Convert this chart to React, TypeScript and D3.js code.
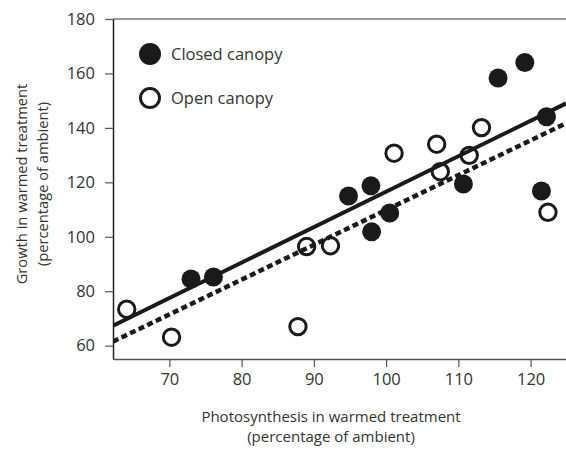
import React, { useEffect, useRef } from 'react';
import * as d3 from 'd3';

// closed canopy points: photosynthesis (x) and growth (y)
const closedX = [73.0, 76.1, 94.8, 97.9, 98.0, 100.5, 110.7, 115.5, 119.2, 122.2, 121.5];
const closedY = [84.5, 85.2, 115.0, 118.7, 101.8, 108.7, 119.4, 158.3, 164.0, 144.1, 116.8];

// open canopy points
const openX = [64.1, 70.3, 87.8, 89.0, 92.3, 101.1, 107.0, 107.5, 111.5, 113.2, 122.4];
const openY = [73.4, 63.1, 67.0, 96.4, 96.7, 130.7, 134.0, 123.9, 129.9, 140.1, 109.0];

// regression lines: [slope, intercept]
const closedFit = [1.303, -13.75];
const openFit = [1.279, -18.06];

const xTicks = [70, 80, 90, 100, 110, 120];
const yTicks = [60, 80, 100, 120, 140, 160, 180];
const legendLabels = ['Closed canopy', 'Open canopy'];

const FONT = "'Open Sans', sans-serif";

const App = () => {
  const svgRef = useRef<SVGSVGElement>(null);

  useEffect(() => {
    const svg = d3.select(svgRef.current);
    svg.selectAll('*').remove();

    const width = 566;
    const height = 449;
    const margin = { top: 19, right: 0, bottom: 90, left: 113 };

    const x = d3.scaleLinear()
      .domain([62.2, 124.9])
      .range([margin.left, width - margin.right]);

    const y = d3.scaleLinear()
      .domain([55.1, 180])
      .range([height - margin.bottom, margin.top]);

    svg.append('defs').append('clipPath')
      .attr('id', 'plot-clip')
      .append('rect')
      .attr('x', margin.left)
      .attr('y', margin.top)
      .attr('width', width - margin.left - margin.right)
      .attr('height', height - margin.top - margin.bottom);

    // top frame line
    svg.append('line')
      .attr('x1', margin.left).attr('x2', width)
      .attr('y1', margin.top).attr('y2', margin.top)
      .attr('stroke', '#777').attr('stroke-width', 1.5);

    // x axis
    const xAxis = svg.append('g')
      .attr('transform', `translate(0,${height - margin.bottom})`)
      .call(d3.axisBottom(x).tickValues(xTicks).tickSize(8).tickSizeOuter(0).tickPadding(6));
    xAxis.select('.domain').attr('stroke', '#555').attr('stroke-width', 1.5);
    xAxis.selectAll('.tick line').attr('stroke', '#555').attr('stroke-width', 1.2);
    xAxis.selectAll('.tick text')
      .attr('font-family', FONT).attr('font-size', 16.5).attr('fill', '#333');

    // y axis
    const yAxis = svg.append('g')
      .attr('transform', `translate(${margin.left},0)`)
      .call(d3.axisLeft(y).tickValues(yTicks).tickSize(8).tickSizeOuter(0).tickPadding(10));
    yAxis.select('.domain').attr('stroke', '#222').attr('stroke-width', 1.5);
    yAxis.selectAll('.tick line').attr('stroke', '#555').attr('stroke-width', 1.2);
    yAxis.selectAll('.tick text')
      .attr('font-family', FONT).attr('font-size', 16.5).attr('fill', '#333');

    // axis titles
    const xTitle = svg.append('text')
      .attr('text-anchor', 'middle')
      .attr('font-family', FONT).attr('font-size', 15).attr('fill', '#333');
    xTitle.append('tspan').attr('x', 331).attr('y', 422).text('Photosynthesis in warmed treatment');
    xTitle.append('tspan').attr('x', 331).attr('y', 442).text('(percentage of ambient)');

    const yTitle = svg.append('text')
      .attr('text-anchor', 'middle')
      .attr('transform', 'translate(0,184) rotate(-90)')
      .attr('font-family', FONT).attr('font-size', 14.7).attr('fill', '#333');
    yTitle.append('tspan').attr('x', 0).attr('y', 27).text('Growth in warmed treatment');
    yTitle.append('tspan').attr('x', 0).attr('y', 48).text('(percentage of ambient)');

    const plot = svg.append('g').attr('clip-path', 'url(#plot-clip)');

    const ends = x.domain();

    plot.append('path')
      .attr('d', d3.line<number>().x(d => x(d)).y(d => y(closedFit[0] * d + closedFit[1]))(ends))
      .attr('fill', 'none')
      .attr('stroke', '#1a1a1a')
      .attr('stroke-width', 4);

    plot.append('path')
      .attr('d', d3.line<number>().x(d => x(d)).y(d => y(openFit[0] * d + openFit[1]))(ends))
      .attr('fill', 'none')
      .attr('stroke', '#1a1a1a')
      .attr('stroke-width', 4.5)
      .attr('stroke-dasharray', '6,3.5');

    plot.selectAll('.closed')
      .data(closedX)
      .enter()
      .append('circle')
      .attr('class', 'closed')
      .attr('cx', d => x(d))
      .attr('cy', (_, i) => y(closedY[i]))
      .attr('r', 9.5)
      .attr('fill', '#1a1a1a');

    plot.selectAll('.open')
      .data(openX)
      .enter()
      .append('circle')
      .attr('class', 'open')
      .attr('cx', d => x(d))
      .attr('cy', (_, i) => y(openY[i]))
      .attr('r', 8.2)
      .attr('fill', 'none')
      .attr('stroke', '#1a1a1a')
      .attr('stroke-width', 3);

    // legend
    const legend = svg.append('g');
    legendLabels.forEach((label, i) => {
      const cy = 54 + i * 44;
      if (i === 0) {
        legend.append('circle').attr('cx', 150).attr('cy', cy).attr('r', 11).attr('fill', '#1a1a1a');
      } else {
        legend.append('circle').attr('cx', 150).attr('cy', cy).attr('r', 9.5)
          .attr('fill', 'none').attr('stroke', '#1a1a1a').attr('stroke-width', 3);
      }
      legend.append('text')
        .attr('x', 171).attr('y', cy + 6)
        .attr('font-family', FONT).attr('font-size', 16.5).attr('fill', '#333')
        .text(label);
    });
  }, []);

  return (
    <svg ref={svgRef} width="566" height="449"
      style={{ position: 'absolute', left: 0, top: 0, background: '#fff' }} />
  );
};

export default App;
